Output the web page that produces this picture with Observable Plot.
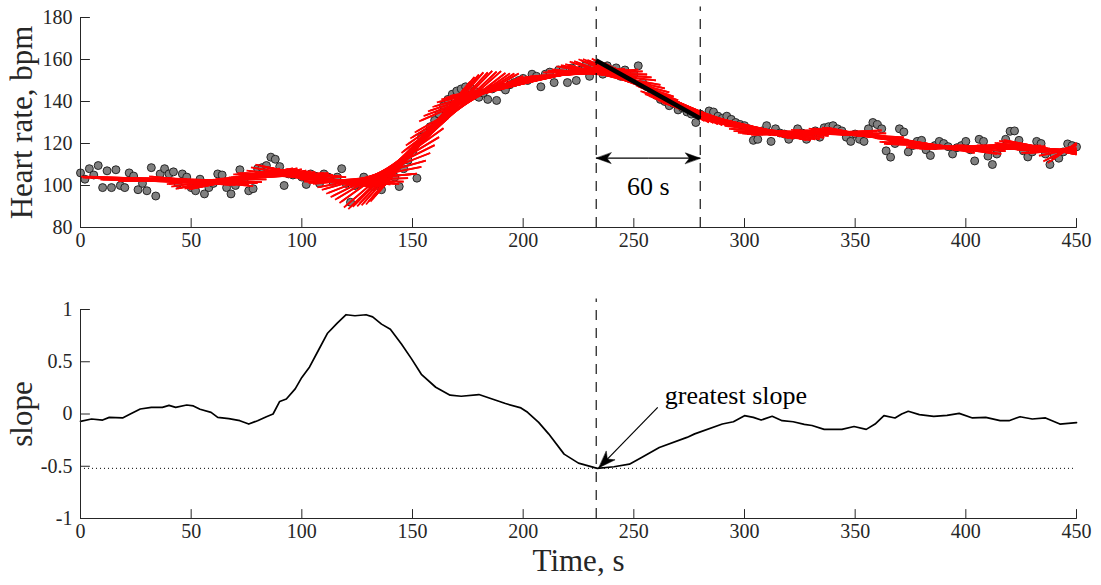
<!DOCTYPE html>
<html><head><meta charset="utf-8">
<script src="https://cdn.jsdelivr.net/npm/d3@7"></script>
<script src="https://cdn.jsdelivr.net/npm/@observablehq/plot@0.6"></script>
<style>
html,body{margin:0;padding:0;background:#fff;}
#chart{position:relative;width:1101px;height:585px;overflow:hidden;}
#chart svg{position:absolute;left:0;display:block;}
#chart svg text{font-family:"Liberation Serif","Times New Roman",serif !important;}
</style></head><body><div id="chart"></div>
<script>
// ---------- data ----------
const hrTimes = d3.range(0, 451, 2); // sample times, s
const hrValues = [
  106, 103, 108, 105, 109.5, 99, 107, 99, 107.5, 100,
  99, 106, 104.5, 98, 101, 97.5, 108.5, 95, 105.5, 108,
  105.5, 106.5, 101, 105.5, 104, 99, 97.5, 103, 96, 99,
  101, 105.5, 105, 99, 96, 100, 107.5, 103, 97.5, 98.5,
  108, 108.5, 109.5, 113.5, 112.5, 109, 100, 105.5, 105, 105.5,
  104, 100.5, 105.5, 104.5, 101, 105.5, 104, 102, 104, 108,
  101, 92, 100, 101, 104, 102, 99.5, 101, 98, 103,
  105, 104, 99.5, 108, 112, 116, 103.5, 123, 125, 128,
  131, 134, 138, 141, 143.5, 145, 146, 147, 146.5, 145,
  142, 144, 141, 146, 140.5, 147, 145.5, 148, 149, 150,
  151, 150, 153, 152, 147, 153, 154, 149, 155, 155,
  149, 156, 150, 155, 157, 152, 157, 155, 153, 157,
  154, 156, 152, 155, 151, 153, 157, 149, 147, 145,
  143, 141, 140, 138, 139, 136, 137, 135, 134, 130,
  134, 133, 135.5, 135, 133, 132, 133, 131.5, 130, 129,
  128.5, 127, 121.5, 122, 126, 128.5, 121, 127, 125, 124.5,
  122, 124, 127, 125, 122, 124, 126, 123, 127.5, 128,
  128.5, 127, 126, 123, 121, 124.5, 122, 121, 127, 130,
  129, 127, 116.5, 113.5, 120, 127, 125.5, 116, 119, 121,
  121.5, 117, 114.3, 119, 121, 120, 118.5, 115, 118, 119,
  121, 117, 111.7, 122, 121, 114, 110, 115, 118, 122,
  125.8, 126, 121.5, 116.5, 113.6, 116, 121, 120, 115, 110,
  114.4, 113, 116, 119.8, 119, 118.4
];
const slopeTimes = [0,5,10,13,19,22.5,27,32,37,40,43,48,51,54,59,62,67,72,76,80,84,87,90,93,97,100,103.5,107.5,111.5,116,120,124,129,132,136,140,145,149.5,154,160.5,167,172,180,186,192,199,202,207,211.5,218.5,225,233.5,241,248,253.5,261.5,274,277.5,290,295,300,304,307.5,312.5,317,322,327,330.5,336,344,349.5,355,359,363,368,371,374,379,385.5,391.5,397,403,409,415.5,419.5,424.5,430,436,442.5,450];
const slopeValues = [-0.07,-0.048,-0.058,-0.032,-0.038,0,0.048,0.064,0.064,0.083,0.064,0.086,0.077,0.045,0.016,-0.032,-0.045,-0.064,-0.096,-0.064,-0.026,0,0.12,0.144,0.24,0.35,0.45,0.61,0.77,0.87,0.95,0.94,0.95,0.93,0.86,0.81,0.67,0.53,0.38,0.256,0.18,0.17,0.186,0.144,0.1,0.058,0.016,-0.08,-0.19,-0.384,-0.47,-0.52,-0.505,-0.48,-0.416,-0.32,-0.224,-0.19,-0.096,-0.074,-0.016,-0.032,-0.058,-0.022,-0.064,-0.074,-0.1,-0.11,-0.147,-0.147,-0.12,-0.147,-0.096,-0.016,-0.038,0,0.026,-0.006,-0.022,-0.013,0.006,-0.038,-0.032,-0.064,-0.064,-0.026,-0.048,-0.038,-0.096,-0.083];

const xTicks = [0, 50, 100, 150, 200, 250, 300, 350, 400, 450];
const hrTicks = [80, 100, 120, 140, 160, 180];
const slopeTicks = [-1, -0.5, 0, 0.5, 1];

const fitWindow = 47;                 // window length on the time axis
const fitStep = 1;                    // a moving fit starts every second
const windowBounds = [233, 280];      // window of greatest slope
const greatestSlope = -0.52;
const spanArrowHr = 113;              // level of the "60 s" arrow
const spanLabel = ["60 s"];
const spanLabelPos = {t: 256.5, hr: 99.5};
const slopeNote = ["greatest slope"];
const slopeNotePos = {t: 264, s: 0.176};
const slopeArrow = [{t1: 260.8, s1: 0.064, t2: 234.2, s2: -0.515}];
const hrDashSpan = [80, 185];
const slopeDashSpan = [-1, 1.1];

// ---------- derived (moving linear fits of the data) ----------
const hrData = hrTimes.map((t, i) => ({t, hr: hrValues[i]}));
function fit(t0, t1) {
  const win = hrData.filter(d => d.t >= t0 && d.t <= t1);
  if (win.length < 4) return null;
  const mt = d3.mean(win, d => d.t), mh = d3.mean(win, d => d.hr);
  const b = d3.sum(win, d => (d.t - mt) * (d.hr - mh)) / d3.sum(win, d => (d.t - mt) ** 2);
  const te = Math.min(t1, d3.max(win, d => d.t));
  return {t0, t1: te, y0: mh + b * (t0 - mt), y1: mh + b * (te - mt)};
}
const fitStarts = d3.range(hrTimes[0], hrTimes[hrTimes.length - 1], fitStep);
const fits = fitStarts.map(t => fit(t, t + fitWindow)).filter(Boolean);
const bestFit = [fit(windowBounds[0], windowBounds[1])];
const slopeData = slopeTimes.map((t, i) => ({t, s: slopeValues[i]}));

// ---------- styling ----------
const serif = "Liberation Serif, Times New Roman, serif";
const axisColor = "#262626";
const tickShapeUp = {draw(ctx, l) { ctx.moveTo(0, 0); ctx.lineTo(0, -l); }};
const tickShapeRight = {draw(ctx, l) { ctx.moveTo(0, 0); ctx.lineTo(l, 0); }};
// filled arrow head, tip at the anchor point, pointing "up" before rotation
const headShape = {draw(ctx, l) {
  const w = l * 0.36;
  ctx.moveTo(0, 0); ctx.lineTo(-w, l); ctx.lineTo(0, l * 0.72); ctx.lineTo(w, l); ctx.closePath();
}};

function frameMarks(yTicks, yMin, fmt) {
  return [
    Plot.ruleY([yMin], {stroke: axisColor, strokeWidth: 1}),
    Plot.ruleX([0], {stroke: axisColor, strokeWidth: 1}),
    Plot.vector(xTicks, {x: d => d, frameAnchor: "bottom", length: 9, anchor: "start", rotate: 0, shape: tickShapeUp, stroke: axisColor, strokeWidth: 1}),
    Plot.vector(yTicks, {y: d => d, frameAnchor: "left", length: 9, anchor: "start", rotate: 0, shape: tickShapeRight, stroke: axisColor, strokeWidth: 1}),
    Plot.axisX({ticks: xTicks, tickSize: 0, tickPadding: 5, fontSize: 20, fontFamily: serif, fill: axisColor, label: null, tickFormat: d => String(d)}),
    Plot.axisY({ticks: yTicks, tickSize: 0, tickPadding: 8, fontSize: 20, fontFamily: serif, fill: axisColor, label: null, tickFormat: fmt})
  ];
}

const topPlot = Plot.plot({
  width: 1101, height: 260,
  marginLeft: 80, marginRight: 25, marginTop: 17, marginBottom: 33,
  x: {domain: [0, 450]},
  y: {domain: [80, 180]},
  style: {background: "transparent", overflow: "visible", fontFamily: serif},
  marks: [
    Plot.dot(hrData, {x: "t", y: "hr", r: 4, fill: "#808080", stroke: "#1a1a1a", strokeWidth: 0.9}),
    Plot.link(fits, {x1: "t0", y1: "y0", x2: "t1", y2: "y1", stroke: "#ff0000", strokeWidth: 1.8}),
    Plot.link(bestFit, {x1: "t0", y1: "y0", x2: "t1", y2: "y1", stroke: "#000", strokeWidth: 4.5}),
    Plot.ruleX(windowBounds, {y1: hrDashSpan[0], y2: hrDashSpan[1], stroke: "#000", strokeWidth: 1.1, strokeDasharray: "10,8"}),
    Plot.link([0, 1], {x1: () => d3.mean(windowBounds), y1: spanArrowHr, x2: i => windowBounds[i], y2: spanArrowHr, stroke: "#000", strokeWidth: 1.2}),
    Plot.vector([0, 1], {x: i => windowBounds[i], y: spanArrowHr, rotate: i => i ? 90 : -90, length: 15, anchor: "start", shape: headShape, fill: "#000", stroke: "#000", strokeWidth: 0.5}),
    Plot.text(spanLabel, {x: spanLabelPos.t, y: spanLabelPos.hr, fontSize: 26, fontFamily: serif, fill: "#000"}),
    ...frameMarks(hrTicks, 80, d => String(d)),
    Plot.text(["Heart rate, bpm"], {frameAnchor: "left", textAnchor: "middle", dx: -58, rotate: -90, fontSize: 31, fontFamily: serif, fill: axisColor})
  ]
});
topPlot.style.top = "0px";

const bottomPlot = Plot.plot({
  width: 1101, height: 325,
  marginLeft: 80, marginRight: 25, marginTop: 49, marginBottom: 67,
  x: {domain: [0, 450]},
  y: {domain: [-1, 1]},
  style: {background: "transparent", overflow: "visible", fontFamily: serif},
  marks: [
    Plot.ruleY([greatestSlope], {stroke: "#000", strokeWidth: 1, strokeDasharray: "1,3"}),
    Plot.ruleX([windowBounds[0]], {y1: slopeDashSpan[0], y2: slopeDashSpan[1], stroke: "#000", strokeWidth: 1.1, strokeDasharray: "10,8"}),
    Plot.line(slopeData, {x: "t", y: "s", stroke: "#000", strokeWidth: 1.7}),
    Plot.link(slopeArrow, {x1: "t1", y1: "s1", x2: "t2", y2: "s2", stroke: "#000", strokeWidth: 1.2}),
    Plot.vector(slopeArrow, {x: "t2", y: "s2", rotate: -136, length: 17, anchor: "start", shape: headShape, fill: "#000", stroke: "#000", strokeWidth: 0.5}),
    Plot.text(slopeNote, {x: slopeNotePos.t, y: slopeNotePos.s, textAnchor: "start", fontSize: 26, fontFamily: serif, fill: "#000"}),
    ...frameMarks(slopeTicks, -1, d => String(d)),
    Plot.text(["slope"], {frameAnchor: "left", textAnchor: "middle", dx: -58, rotate: -90, fontSize: 31, fontFamily: serif, fill: axisColor}),
    Plot.text(["Time, s"], {frameAnchor: "bottom", dy: 52, fontSize: 31, fontFamily: serif, fill: axisColor})
  ]
});
bottomPlot.style.top = "260px";

const chart = document.getElementById("chart");
chart.appendChild(topPlot);
chart.appendChild(bottomPlot);
</script></body></html>
